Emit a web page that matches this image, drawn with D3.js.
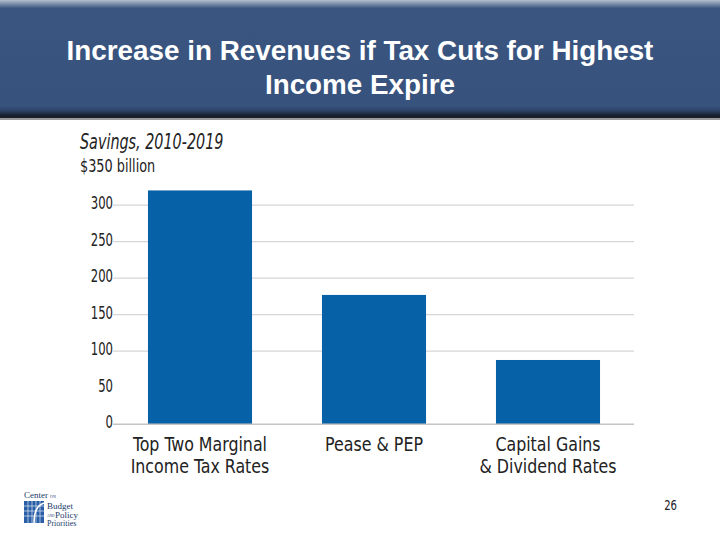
<!DOCTYPE html>
<html><head><meta charset="utf-8">
<script src="https://cdn.jsdelivr.net/npm/d3@7"></script>
<style>body{margin:0;background:#fff}svg{display:block}</style>
</head><body>
<script>
const categories = [["Top Two Marginal","Income Tax Rates"],["Pease & PEP"],["Capital Gains","& Dividend Rates"]];
const values = [320, 177, 88];
const tickValues = [0, 50, 100, 150, 200, 250, 300];
const gridValues = [100, 150, 200, 250, 300];
const titleLines = ["Increase in Revenues if Tax Cuts for Highest", "Income Expire"];

const W = 720, H = 540;
const svg = d3.select("body").append("svg").attr("width", W).attr("height", H);
const defs = svg.append("defs");
const g1 = defs.append("linearGradient").attr("id","hdr").attr("x1",0).attr("y1",0).attr("x2",0).attr("y2",1);
[[0,"#b4bfcf"],[0.07,"#3a5680"],[0.9,"#36527d"],[0.94,"#2c4266"],[0.98,"#161d2b"],[1,"#1a1f28"]].forEach(([o,c])=>g1.append("stop").attr("offset",o).attr("stop-color",c));

function condense(sel, k){
  sel.each(function(){ const L = this.getComputedTextLength(); d3.select(this).attr("textLength", L*k).attr("lengthAdjust","spacingAndGlyphs"); });
}

svg.append("rect").attr("x",0).attr("y",0).attr("width",W).attr("height",118).attr("fill","url(#hdr)");
svg.append("rect").attr("x",0).attr("y",118).attr("width",W).attr("height",2).attr("fill","#9a9a9a");

svg.selectAll("text.title").data(titleLines).join("text").attr("class","title")
  .attr("x", 360).attr("y",(d,i)=>60 + i*34)
  .attr("text-anchor","middle").attr("fill","#fff")
  .style("font-family","'Liberation Sans', Arial, sans-serif").style("font-weight","bold").style("font-size","27px")
  .text(d=>d)
  .call(condense, 1.03);

const font = "'DejaVu Sans Condensed','DejaVu Sans',sans-serif";

const y = d3.scaleLinear().domain([0, 350]).range([424.3, 168.5]);
const x = d3.scaleBand().domain(d3.range(categories.length)).range([113, 635]).paddingInner(0.402).paddingOuter(0.201);

// gridlines
svg.selectAll("line.grid").data(gridValues).join("line").attr("class","grid")
  .attr("x1",113).attr("x2",634).attr("y1",d=>y(d)).attr("y2",d=>y(d))
  .attr("stroke","#d6d6d6").attr("stroke-width",1.2);

// bars
svg.selectAll("rect.bar").data(values).join("rect").attr("class","bar")
  .attr("x",(d,i)=>x(i)).attr("width",x.bandwidth())
  .attr("y",d=>y(d)).attr("height",d=>y(0)-y(d))
  .attr("fill","#0761a6");

// baseline
svg.append("line").attr("x1",113).attr("x2",634).attr("y1",y(0)).attr("y2",y(0)).attr("stroke","#c4c4c4").attr("stroke-width",1.5);

// y axis labels
const yAxis = d3.axisLeft(y).tickValues(tickValues).tickSize(0).tickPadding(0);
const ya = svg.append("g").attr("transform","translate(113,0)").call(yAxis);
ya.select(".domain").remove();
ya.selectAll("text").style("font-family",font).style("font-size","18px").attr("fill","#222").attr("dy","0.2em")
  .call(condense, 0.72);

svg.append("text").attr("x",80).attr("y",149).style("font-family",font).style("font-style","italic").style("font-size","21px").attr("fill","#222").text("Savings, 2010-2019").call(condense,0.76);
svg.append("text").attr("x",80).attr("y",172).style("font-family",font).style("font-size","17px").attr("fill","#222").text("$350 billion").call(condense,0.84);

// category labels
categories.forEach((lines,i)=>{
  svg.selectAll(null).data(lines).join("text")
    .attr("x", x(i)+x.bandwidth()/2).attr("y",(d,j)=>451+j*22)
    .attr("text-anchor","middle").style("font-family",font).style("font-size","20px").attr("fill","#222")
    .text(d=>d)
    .call(condense, 0.88);
});

// page number
svg.append("text").attr("x",677).attr("y",510).attr("text-anchor","end").style("font-family",font).style("font-size","14px").attr("fill","#222").text("26").call(condense,0.8);

// logo
const serif = "'Liberation Serif',serif";
const logo = svg.append("g").attr("transform","translate(22,490)");
logo.append("text").attr("x",2).attr("y",8).style("font-family",serif).style("font-size","9px").attr("fill","#1a3a6a").text("Center");
logo.append("text").attr("x",28).attr("y",8).style("font-family",serif).style("font-size","4px").attr("fill","#1a3a6a").text("ON");
logo.append("rect").attr("x",2).attr("y",11).attr("width",20).attr("height",22).attr("fill","#2a5fa8");
[4,8,12,16].forEach(v=>logo.append("line").attr("x1",2+v).attr("x2",2+v).attr("y1",11).attr("y2",33).attr("stroke","#fff").attr("stroke-width",0.6));
[16,21,26].forEach(v=>logo.append("line").attr("x1",2).attr("x2",22).attr("y1",v).attr("y2",v).attr("stroke","#fff").attr("stroke-width",0.6));
logo.append("path").attr("d","M12,33 Q12,16 22,13").attr("fill","none").attr("stroke","#fff").attr("stroke-width",1.6);
logo.append("text").attr("x",25).attr("y",19).style("font-family",serif).style("font-size","9px").attr("fill","#1a3a6a").text("Budget");
logo.append("text").attr("x",25).attr("y",27).style("font-family",serif).style("font-size","3.5px").attr("fill","#1a3a6a").text("AND");
logo.append("text").attr("x",33).attr("y",27.5).style("font-family",serif).style("font-size","9px").attr("fill","#1a3a6a").text("Policy");
logo.append("text").attr("x",25).attr("y",36).style("font-family",serif).style("font-size","8px").attr("fill","#1a3a6a").text("Priorities");
</script>
</body></html>
